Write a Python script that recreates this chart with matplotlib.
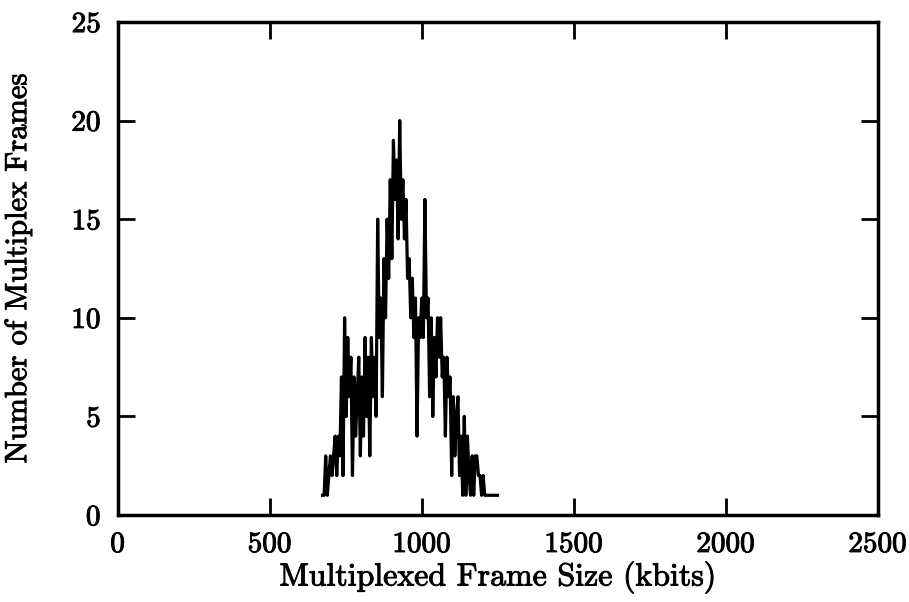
import matplotlib
matplotlib.use("Agg")
import matplotlib.pyplot as plt
import matplotlib.patheffects as pe
import numpy as np

plt.rcParams['font.family'] = ['cmr10', 'DejaVu Serif']
plt.rcParams['axes.formatter.use_mathtext'] = True

num_frames = [
    1, 1, 3, 1, 2, 3, 2, 3, 4, 2,
    4, 3, 7, 2, 10, 5, 9, 6, 8, 2,
    7, 4, 6, 8, 3, 7, 4, 9, 5, 8,
    3, 9, 6, 8, 5, 15, 9, 11, 6, 13,
    10, 15, 12, 17, 13, 19, 16, 18, 14, 20,
    15, 17, 14, 16, 12, 13, 10, 12, 9, 11,
    4, 10, 9, 11, 9, 16, 10, 11, 6, 10,
    5, 9, 7, 10, 8, 10, 7, 8, 4, 8,
    6, 7, 2, 6, 3, 5, 6, 2, 4, 1,
    5, 1, 4, 2, 1, 3, 1, 3, 3, 2,
    2, 1, 2, 1, 1, 1, 1, 1, 1, 1,
    1, 1,
]
frame_size = np.linspace(673, 1248, len(num_frames))

x_ticks = [0, 500, 1000, 1500, 2000, 2500]
y_ticks = [0, 5, 10, 15, 20, 25]

bold = [pe.withStroke(linewidth=0.7, foreground='black')]

fig = plt.figure(figsize=(9.09, 6.02), dpi=100)
ax = fig.add_axes([0.1298, 0.1445, 0.836, 0.819])
ax.plot(frame_size, num_frames, color='black', linewidth=2.3)

ax.set_xlim(0, 2500)
ax.set_ylim(0, 25)
ax.set_xticks(x_ticks)
ax.set_yticks(y_ticks)
ax.tick_params(direction='in', length=12, width=2, top=True, right=True,
               labelsize=21, pad=12)
for lab in ax.get_xticklabels() + ax.get_yticklabels():
    lab.set_path_effects(bold)
for s in ax.spines.values():
    s.set_linewidth(2.5)

ax.set_xlabel('Multiplexed Frame Size (kbits)', fontsize=23, labelpad=3,
              path_effects=bold)
ax.set_ylabel('Number of Multiplex Frames', fontsize=22,
              path_effects=bold)
ax.yaxis.set_label_coords(-0.113, 0.5)

fig.savefig('out.png', dpi=100)
